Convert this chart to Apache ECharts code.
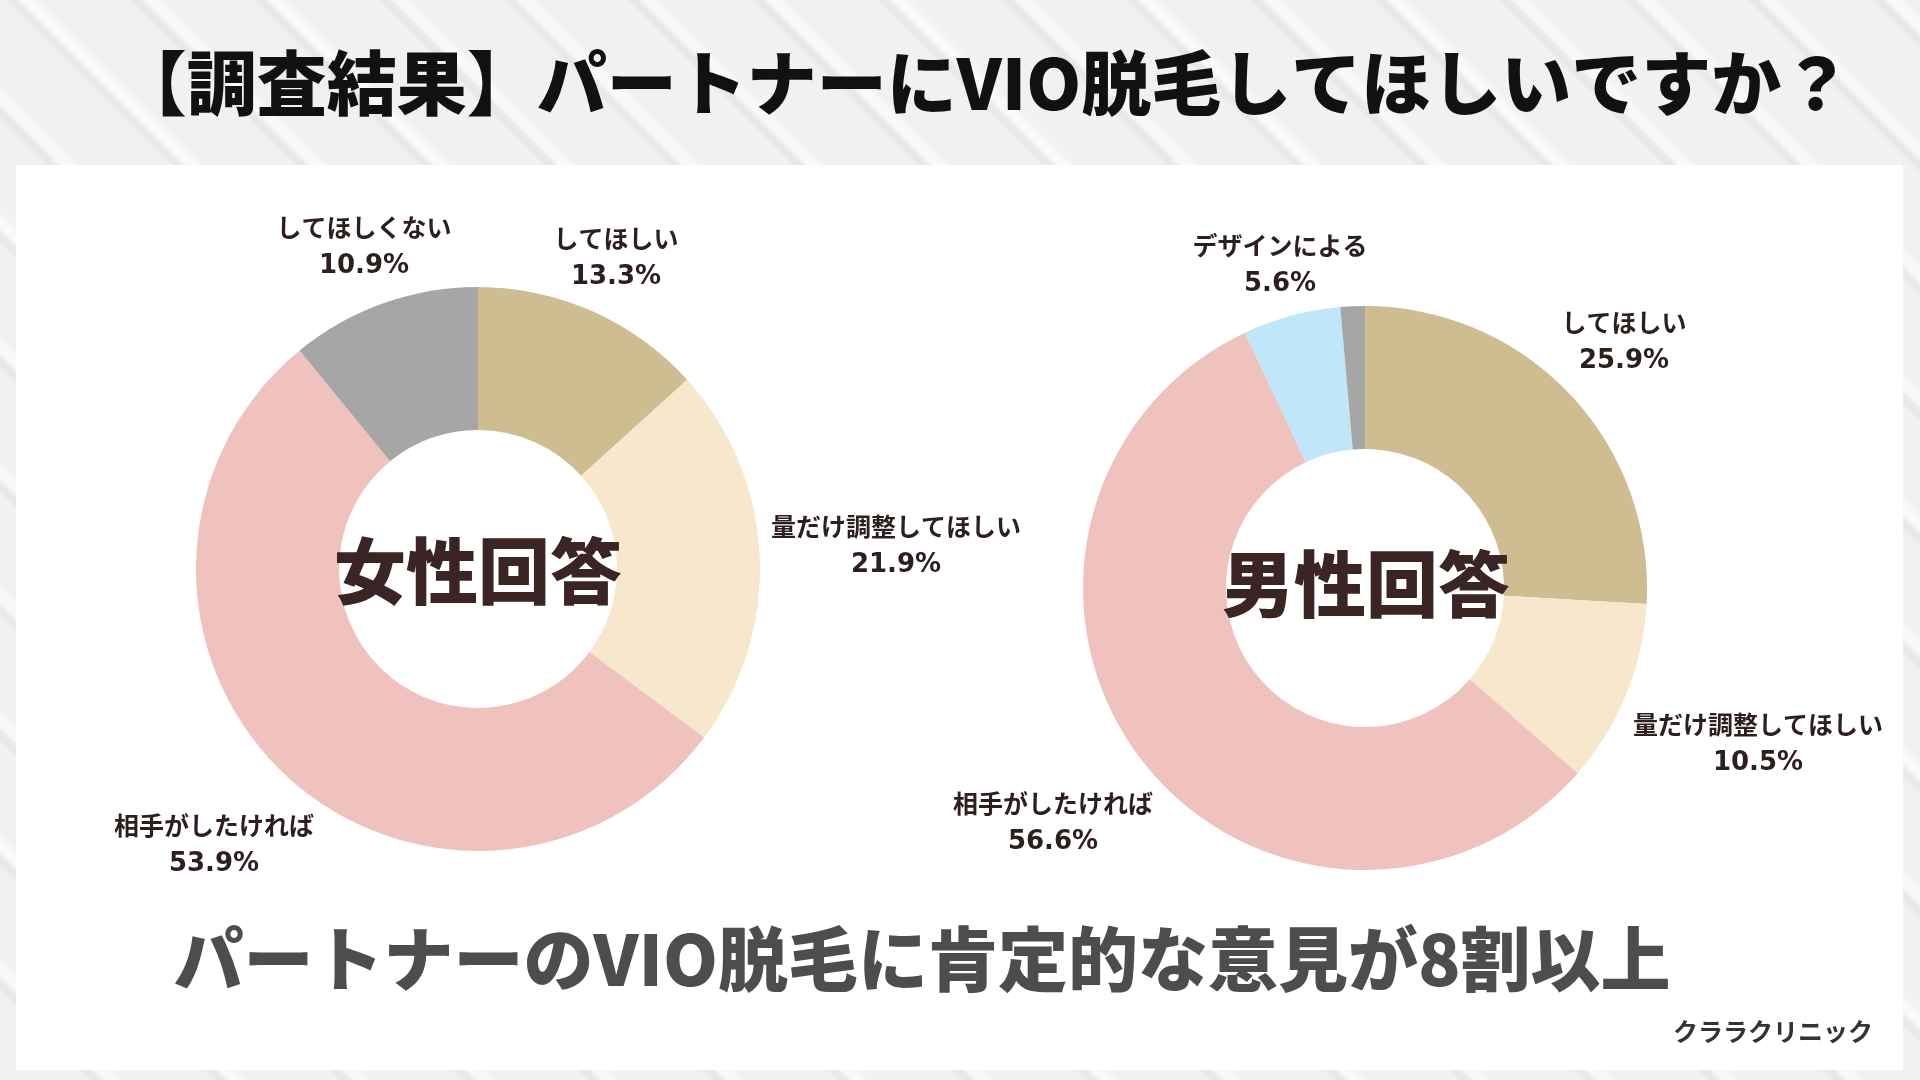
<!DOCTYPE html>
<html><head><meta charset="utf-8">
<script src="https://cdn.jsdelivr.net/npm/echarts@6/dist/echarts.min.js"></script>
<style>
html,body{margin:0;padding:0;width:1920px;height:1080px;overflow:hidden;}
body{background-color:#f1f1f1;background-image:repeating-linear-gradient(45deg,#f1f1f1 0px,#f1f1f1 62px,#e7e7e7 67px,#eaeaea 71px,#f9f9f9 75px,#f9f9f9 82px,#f1f1f1 88px);}
#chart{position:absolute;left:0;top:0;width:1920px;height:1080px;}
</style></head><body><div id="chart"></div>
<script>
// ---- data ----
const categoriesFemale = ['してほしい', '量だけ調整してほしい', '相手がしたければ', 'してほしくない'];
const valuesFemale = [13.3, 21.9, 53.9, 10.9];
const categoriesMale = ['してほしい', '量だけ調整してほしい', '相手がしたければ', 'デザインによる', 'してほしくない'];
const valuesMale = [25.9, 10.5, 56.6, 5.6, 1.4];
const hiddenLabelsMale = ['してほしくない'];
const titleText = '【調査結果】パートナーにVIO脱毛してほしいですか？';
const subtitleText = 'パートナーのVIO脱毛に肯定的な意見が8割以上';
const creditText = 'クララクリニック';
const centerFemale = '女性回答';
const centerMale = '男性回答';

// ---- styles / layout ----
const colorMap = {
  'してほしい': '#cdbd91',
  '量だけ調整してほしい': '#f6e7cd',
  '相手がしたければ': '#efc2bd',
  'してほしくない': '#a6a6a6',
  'デザインによる': '#bfe6f9'
};
const labelPosFemale = {
  'してほしくない': [364, 247],
  'してほしい': [616, 258],
  '量だけ調整してほしい': [896, 546],
  '相手がしたければ': [214, 845]
};
const labelPosMale = {
  'デザインによる': [1280, 265],
  'してほしい': [1624, 342],
  '量だけ調整してほしい': [1758, 744],
  '相手がしたければ': [1053, 823]
};
const textColor = '#2e1f1f';
const jp = '"Noto Sans CJK JP", "Noto Sans", sans-serif';

function makeData(cats, vals, hidden) {
  return cats.map((c, i) => ({
    name: c,
    value: vals[i],
    itemStyle: { color: colorMap[c] },
    label: { show: !(hidden || []).includes(c) }
  }));
}

const labelCfg = {
  show: true,
  position: 'outside',
  overflow: 'none',
  edgeDistance: 0,
  formatter: p => '{n|' + p.name + '}\n{v|' + p.value.toFixed(1) + '%}',
  rich: {
    n: { fontFamily: jp, fontWeight: 'bold', fontSize: 25, color: textColor, lineHeight: 39, align: 'center' },
    v: { fontFamily: '"DejaVu Sans", sans-serif', fontWeight: 'bold', fontSize: 26, color: textColor, lineHeight: 39, align: 'center' }
  }
};

function layoutFor(cats, pos) {
  return function (params) {
    const p = pos[cats[params.dataIndex]];
    if (!p) return {};
    return { x: p[0], y: p[1], align: 'center', verticalAlign: 'middle' };
  };
}

const chart = echarts.init(document.getElementById('chart'), null, { renderer: 'canvas' });
chart.setOption({
  backgroundColor: 'transparent',
  animation: false,
  graphic: [
    { type: 'rect', z: -10, shape: { x: 16, y: 165, width: 1887, height: 905 }, style: { fill: '#ffffff' } },
    { type: 'text', x: 984, y: 83, style: { text: titleText, fontFamily: jp, fontWeight: 900, fontSize: 70, fill: '#111111', align: 'center', verticalAlign: 'middle' } },
    { type: 'text', x: 922, y: 959, style: { text: subtitleText, fontFamily: jp, fontWeight: 900, fontSize: 70, fill: '#4d4d4d', align: 'center', verticalAlign: 'middle' } },
    { type: 'text', x: 1873, y: 1031, style: { text: creditText, fontFamily: jp, fontWeight: 'bold', fontSize: 25, fill: '#333333', align: 'right', verticalAlign: 'middle' } },
    { type: 'text', x: 478, y: 571, z: 10, style: { text: centerFemale, fontFamily: jp, fontWeight: 900, fontSize: 72, fill: '#3b2424', align: 'center', verticalAlign: 'middle' } },
    { type: 'text', x: 1366, y: 584, z: 10, style: { text: centerMale, fontFamily: jp, fontWeight: 900, fontSize: 72, fill: '#3b2424', align: 'center', verticalAlign: 'middle' } }
  ],
  series: [
    {
      type: 'pie',
      center: [478, 569],
      radius: [139, 282],
      startAngle: 90,
      clockwise: true,
      silent: true,
      label: labelCfg,
      labelLine: { show: false },
      labelLayout: layoutFor(categoriesFemale, labelPosFemale),
      data: makeData(categoriesFemale, valuesFemale)
    },
    {
      type: 'pie',
      center: [1365, 588],
      radius: [139, 282],
      startAngle: 90,
      clockwise: true,
      silent: true,
      label: labelCfg,
      labelLine: { show: false },
      labelLayout: layoutFor(categoriesMale, labelPosMale),
      data: makeData(categoriesMale, valuesMale, hiddenLabelsMale)
    }
  ]
});
</script>
</body></html>
